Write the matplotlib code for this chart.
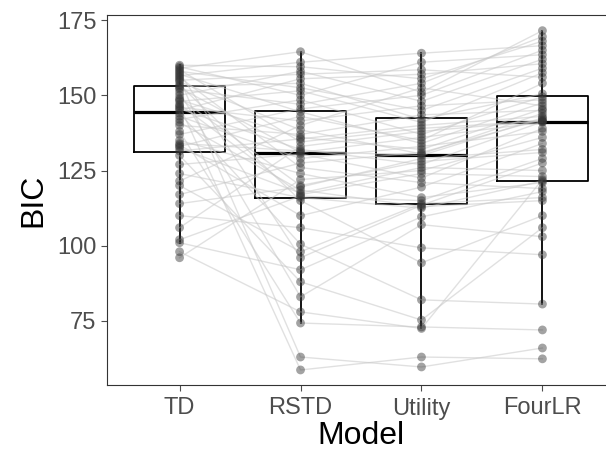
import numpy as np
import matplotlib
matplotlib.use("Agg")
from matplotlib import pyplot as plt

plt.rcParams['font.family'] = ['Liberation Sans', 'DejaVu Sans']

models = ['TD', 'RSTD', 'Utility', 'FourLR']

# one entry per subject, same order in every list
td = [160, 159.5, 159, 158.5, 158, 157.5, 157, 156.5, 156, 155.5, 155, 154.5, 153.5,
      153, 152.5, 152, 151, 150, 149, 148.5, 148, 147, 146.5, 146, 145.5, 145, 144,
      143, 142, 141, 140, 138, 137, 135, 134, 133.5, 133, 132.5, 131.5, 130, 127, 124,
      121.5, 120, 117, 114, 110, 106, 102, 101, 98, 96]
rstd = [159.5, 150, 164.5, 134.5, 152.5, 96, 144.5, 161, 126, 63, 157, 138.5, 115,
        154, 131, 147, 83, 158, 120, 136, 151.5, 117, 58.7, 141.5, 132, 155.5, 100.5,
        129, 148.5, 118.5, 137, 74.3, 145.5, 124, 131.5, 110, 143, 117.5, 135.5, 88,
        130.5, 116, 140, 98, 127.5, 119.5, 106, 133, 116.5, 92, 78, 122]
utility = [155.5, 161, 151, 139, 145, 113.5, 134, 164, 121, 59.7, 158.5, 130.5, 94.3,
           142, 136, 154, 107, 148, 128, 132, 141, 124, 63, 146.5, 127, 157, 82, 133,
           137, 113, 143.5, 73, 150, 116, 130, 119.5, 135, 126, 140, 75.3, 122.5, 112.5,
           152.5, 114, 131, 129, 99.3, 138, 115, 109.6, 72.5, 125]
fourlr = [168, 163.5, 171.5, 141.5, 159, 127.5, 147.5, 166.5, 119, 66, 156, 144, 110,
          150.5, 141, 169.5, 103, 162, 131, 145.5, 157.5, 123, 62.4, 148.5, 141.2, 160.5,
          80.6, 138, 149.5, 115, 145, 72, 165, 121, 142.5, 134, 154, 125, 143, 106, 139,
          121.5, 146.5, 116, 142, 132, 97, 141.5, 129, 118, 122, 136]

data = np.array([td, rstd, utility, fourlr])
xs = np.arange(1, len(models) + 1)

fig = plt.figure(figsize=(6.06, 4.53), dpi=100)
ax = fig.add_axes([107 / 606, 68 / 453, 508 / 606, 370 / 453])

# boxes first, subject lines and points over them
ax.boxplot(data.T, positions=xs, widths=0.75, showfliers=False, whis=1.5,
           boxprops=dict(color='black', linewidth=1.3),
           whiskerprops=dict(color='black', linewidth=1.3),
           capprops=dict(linewidth=0),
           medianprops=dict(color='black', linewidth=2.3),
           zorder=1)

for j in range(data.shape[1]):
    ax.plot(xs, data[:, j], color='#c8c8c8', alpha=0.55, linewidth=1.0, zorder=2)

for i, x in enumerate(xs):
    ax.scatter(np.full(data.shape[1], x), data[i], s=40, color='#333333',
               alpha=0.45, edgecolors='none', zorder=3)

ax.set_xlim(0.4, 4.6)
ax.set_ylim(53.7, 176.7)
ax.set_yticks([75, 100, 125, 150, 175])
ax.set_xticks(xs)
ax.set_xticklabels(models)
ax.tick_params(axis='both', labelsize=17, colors='#4d4d4d', length=4, width=0.8,
               labelcolor='#4d4d4d')
ax.tick_params(axis='x', pad=5)
for s in ax.spines.values():
    s.set_color('#333333')
    s.set_linewidth(0.8)
ax.set_xlabel('Model', fontsize=23, labelpad=1)
ax.set_ylabel('BIC', fontsize=23, labelpad=6)

fig.savefig('out.png', dpi=100)
